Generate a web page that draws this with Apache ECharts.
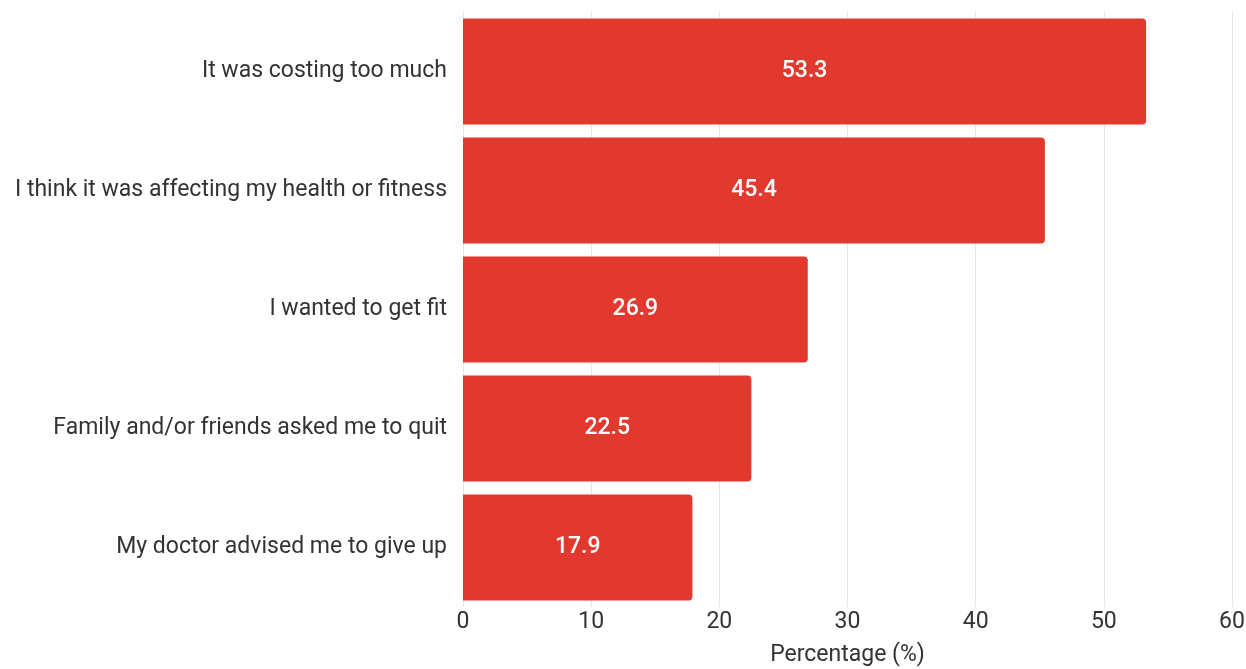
<!DOCTYPE html>
<html>
<head>
<meta charset="utf-8">
<script src="https://cdn.jsdelivr.net/npm/echarts@6/dist/echarts.min.js"></script>
<style>
  html, body { margin: 0; padding: 0; background: #fff; }
  #chart { width: 1246px; height: 669px; }
</style>
</head>
<body>
<div id="chart"></div>
<script>
const reasons = [
  'It was costing too much',
  'I think it was affecting my health or fitness',
  'I wanted to get fit',
  'Family and/or friends asked me to quit',
  'My doctor advised me to give up'
];
const percentages = [53.3, 45.4, 26.9, 22.5, 17.9];

const chart = echarts.init(document.getElementById('chart'), null, { renderer: 'canvas' });

chart.setOption({
  animation: false,
  textStyle: { fontFamily: 'Roboto' },
  grid: { left: 463, right: 14, top: 12, bottom: 62, containLabel: false, outerBoundsMode: 'none' },
  xAxis: {
    type: 'value',
    min: 0,
    max: 60,
    interval: 10,
    name: 'Percentage (%)',
    nameLocation: 'middle',
    nameGap: 37,
    nameTextStyle: { fontSize: 23, color: '#333', fontFamily: 'Roboto' },
    axisLine: { show: false },
    axisTick: { show: false },
    axisLabel: { fontSize: 23, color: '#333', margin: 4, fontFamily: 'Roboto' },
    splitLine: { lineStyle: { color: '#e6e6e6', width: 1 } }
  },
  yAxis: {
    type: 'category',
    data: reasons,
    inverse: true,
    axisLine: { show: false },
    axisTick: { show: false },
    axisLabel: { fontSize: 23, color: '#333', margin: 16, fontFamily: 'Roboto' },
    splitLine: { show: false }
  },
  series: [{
    type: 'bar',
    data: percentages,
    barCategoryGap: '11%',
    itemStyle: { color: '#e2392f', borderRadius: [0, 4, 4, 0] },
    label: {
      show: true,
      position: 'inside',
      color: '#fff',
      fontSize: 23,
      fontWeight: 500,
      fontFamily: 'Roboto',
      formatter: p => p.value.toFixed(1)
    }
  }]
});
</script>
</body>
</html>
